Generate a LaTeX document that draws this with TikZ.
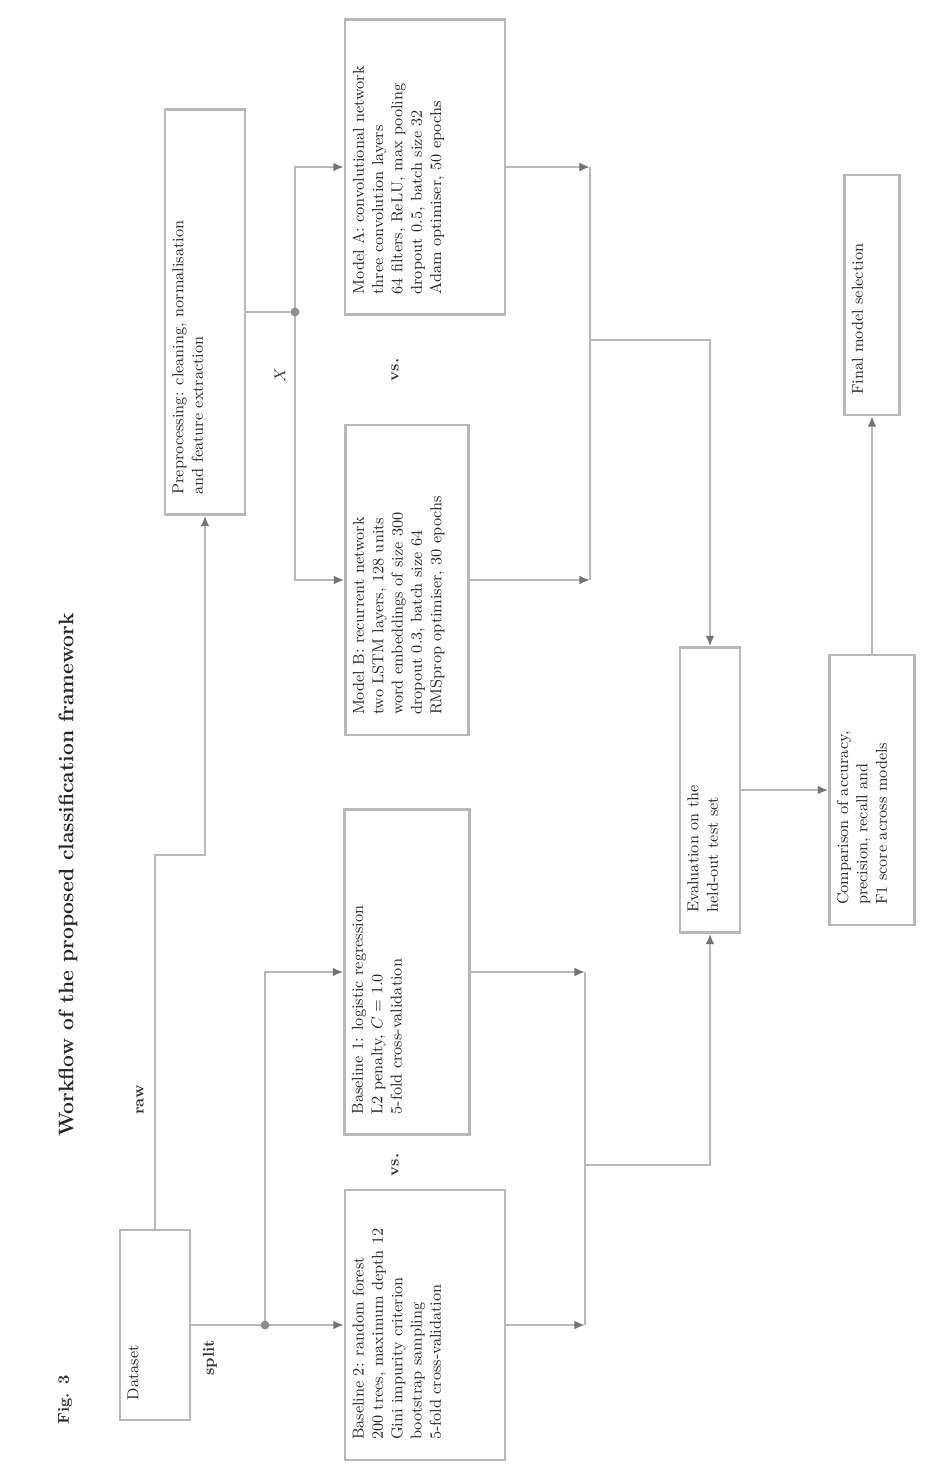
\documentclass[tikz,border=0pt]{standalone}
\usepackage{xcolor}
\usepackage{amsmath}
\usepackage{tikz}
\usetikzlibrary{arrows.meta}

\newcommand{\boxtxt}[3]{\parbox[c][#1][t]{#2}{\raggedright #3}}

\begin{document}
\begin{tikzpicture}[x=0.02cm, y=-0.02cm,
        box/.style={draw=black!28, line width=1.3pt, rotate=90, inner xsep=0.4cm, inner ysep=0.15cm, font=\small, text=black!85},
        conn/.style={draw=black!28, line width=1.3pt},
        arr/.style={conn, -{Latex[length=6pt, width=5pt, color=black!55]}},
        dot/.style={fill=black!45},
        lbl/.style={rotate=90, font=\small\bfseries, text=black!80},
        ttl/.style={rotate=90, font=\large\bfseries, text=black!85}]
    \useasboundingbox (0,0) rectangle (929,1466);

    % title and figure label
    \node[ttl] (title) at (68,875) {Workflow of the proposed classification framework};
    \node[lbl] (figlbl) at (65,1400) {Fig. 3};

    % input and preprocessing
    \node[box] (in) at (155,1325) {\boxtxt{1.1cm}{3.0cm}{Dataset}};
    \node[box] (prep) at (205,312) {\boxtxt{1.3cm}{7.3cm}{Preprocessing: cleaning, normalisation\\ and feature extraction}};

    % models
    \node[box] (mA) at (425,167) {\boxtxt{2.9cm}{5.1cm}{Model A: convolutional network\\ three convolution layers\\ 64 filters, ReLU, max pooling\\ dropout 0.5, batch size 32\\ Adam optimiser, 50 epochs}};
    \node[box] (mB) at (407,580) {\boxtxt{2.16cm}{5.4cm}{Model B: recurrent network\\ two LSTM layers, 128 units\\ word embeddings of size 300\\ dropout 0.3, batch size 64\\ RMSprop optimiser, 30 epochs}};
    \node[lbl] (vs1) at (395,370) {vs.};

    % baselines
    \node[box] (mC) at (407,972) {\boxtxt{2.2cm}{5.7cm}{Baseline 1: logistic regression\\ L2 penalty, $C = 1.0$\\ 5-fold cross-validation}};
    \node[box] (mD) at (425,1325) {\boxtxt{2.9cm}{4.6cm}{Baseline 2: random forest\\ 200 trees, maximum depth 12\\ Gini impurity criterion\\ bootstrap sampling\\ 5-fold cross-validation}};
    \node[lbl] (vs2) at (395,1165) {vs.};

    % evaluation
    \node[box] (ev) at (710,790) {\boxtxt{0.9cm}{4.9cm}{Evaluation on the\\ held-out test set}};
    \node[box] (cmp) at (872,790) {\boxtxt{1.4cm}{4.6cm}{Comparison of accuracy,\\ precision, recall and\\ F1 score across models}};
    \node[box] (fin) at (872,295) {\boxtxt{0.8cm}{4.0cm}{Final model selection}};

    % edge labels
    \node[lbl] (lraw) at (140,1100) {raw};
    \node[lbl] (lsplit) at (210,1358) {split};
    \node[lbl] (lx) at (280,375) {$X$};

    % bends and junctions
    \coordinate (j1) at (155,855);
    \coordinate (jT) at (295,312);
    \coordinate (jIn) at (265,1325);
    \coordinate (kAB) at (590,340);
    \coordinate (kCD) at (585,1165);

    % input to preprocessing
    \draw[arr] (in.east) -- (j1) -| (prep.west);

    % preprocessing to models
    \draw[conn] (prep.south) -- (jT);
    \draw[arr] (jT) |- (mA.north);
    \draw[arr] (jT) |- (mB.north);
    \fill[dot] (jT) circle (2.5pt);

    % input to baselines
    \draw[conn] (in.south) -- (jIn);
    \draw[arr] (jIn) |- (mC.north);
    \draw[arr] (jIn) -- (mD.north);
    \fill[dot] (jIn) circle (2.5pt);

    % models to evaluation
    \draw[arr] (mA.south) -- (mA.south -| kAB);
    \draw[arr] (mB.south) -- (mB.south -| kAB);
    \draw[conn] (mA.south -| kAB) -- (mB.south -| kAB);
    \draw[arr] (kAB) -| (ev.east);

    % baselines to evaluation
    \draw[arr] (mC.south) -- (mC.south -| kCD);
    \draw[arr] (mD.south) -- (mD.south -| kCD);
    \draw[conn] (mC.south -| kCD) -- (mD.south -| kCD);
    \draw[arr] (kCD) -| (ev.west);

    % evaluation to comparison and final model
    \draw[arr] (ev.south) -- (cmp.north);
    \draw[arr] (cmp.east) -- (fin.west);
\end{tikzpicture}
\end{document}
